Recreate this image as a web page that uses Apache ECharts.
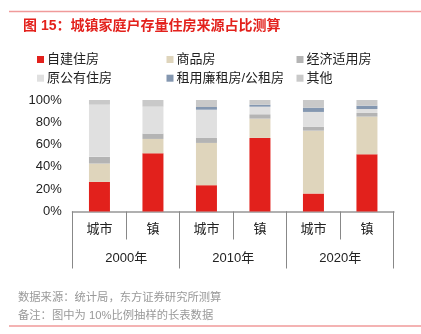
<!DOCTYPE html>
<html><head><meta charset="utf-8">
<script src="https://cdn.jsdelivr.net/npm/echarts@6/dist/echarts.min.js"></script>
<style>html,body{margin:0;padding:0;background:#fff}#c{width:421px;height:334px}</style>
</head><body><div id="c"></div>
<script>
const categories = ['城市','镇','城市','镇','城市','镇'];
const years = ['2000年','2010年','2020年'];
const seriesNames = ['自建住房','商品房','经济适用房','原公有住房','租用廉租房/公租房','其他'];
const selfBuilt = [26.6, 52.2, 23.6, 66.0, 16.1, 51.3];
const commercial = [16.4, 12.9, 37.9, 17.3, 56.4, 33.8];
const affordable = [6.0, 4.8, 4.5, 3.9, 3.6, 3.3];
const formerPublic = [46.8, 24.1, 25.3, 6.8, 13.2, 3.5];
const rental = [0, 0, 2.4, 1.8, 3.8, 3.0];
const other = [4.2, 6.0, 6.3, 4.2, 6.9, 5.1];
const yTicks = [0, 20, 40, 60, 80, 100];

const colors = ['#e2211c','#dfd5bc','#b4b4b4','#e0e0e0','#8497b0','#c9c9c9'];
const values = [selfBuilt, commercial, affordable, formerPublic, rental, other];
const FF = 'Liberation Sans, Arial, Noto Sans CJK SC, sans-serif';

const chart = echarts.init(document.getElementById('c'), null, {renderer:'canvas'});
function legendCol(names, left){
  return {
    orient:'vertical', left:left, top:48, itemWidth:7, itemHeight:7, itemGap:5.7,
    icon:'rect', data:names, selectedMode:false,
    textStyle:{fontFamily:FF, fontSize:13, color:'#222', padding:[0,0,0,-2]}
  };
}
chart.setOption({
  animation:false,
  color: colors,
  title:{text:'图 15：城镇家庭户存量住房来源占比测算', left:18, top:14,
    textStyle:{fontFamily:FF, fontSize:14, fontWeight:'bold', color:'#e3211c'}},
  legend:[
    legendCol([seriesNames[0], seriesNames[3]], 32),
    legendCol([seriesNames[1], seriesNames[4]], 161.5),
    legendCol([seriesNames[2], seriesNames[5]], 291.5)
  ],
  grid:{left:72.7, right:27.3, top:100, bottom:122.5},
  xAxis:[
    {type:'category', data:categories, position:'bottom',
     axisLine:{show:true, lineStyle:{color:'#b0b0b0', width:2}},
     axisTick:{show:true, length:28, lineStyle:{color:'#888', width:1}},
     axisLabel:{fontFamily:FF, fontSize:13, color:'#222', margin:11}},
    {type:'category', data:years, position:'bottom',
     axisLine:{show:false},
     axisTick:{show:true, length:57, lineStyle:{color:'#888', width:1}},
     axisLabel:{fontFamily:FF, fontSize:13, color:'#222', margin:40}}
  ],
  yAxis:{type:'value', min:yTicks[0], max:yTicks[yTicks.length-1], interval:20,
    axisLine:{show:false}, axisTick:{show:false}, splitLine:{show:false},
    axisLabel:{formatter:'{value}%', fontFamily:FF, fontSize:13, color:'#222', margin:11}},
  series: seriesNames.map((n,i)=>({
    name:n, type:'bar', stack:'total', barWidth:21, xAxisIndex:0,
    itemStyle:{color:colors[i]}, data:values[i]
  })),
  graphic:[
    {type:'line', shape:{x1:9,y1:11.5,x2:421,y2:11.5}, style:{stroke:'#f09a9a', lineWidth:1.5}},
    {type:'line', shape:{x1:9,y1:326,x2:421,y2:326}, style:{stroke:'#f09a9a', lineWidth:1.5}},
    {type:'text', left:18, top:292, style:{text:'数据来源：统计局，东方证券研究所测算', font:'11.3px '+FF, fill:'#999'}},
    {type:'text', left:18, top:310.5, style:{text:'备注：图中为 10%比例抽样的长表数据', font:'11.3px '+FF, fill:'#999'}}
  ]
});
</script></body></html>
